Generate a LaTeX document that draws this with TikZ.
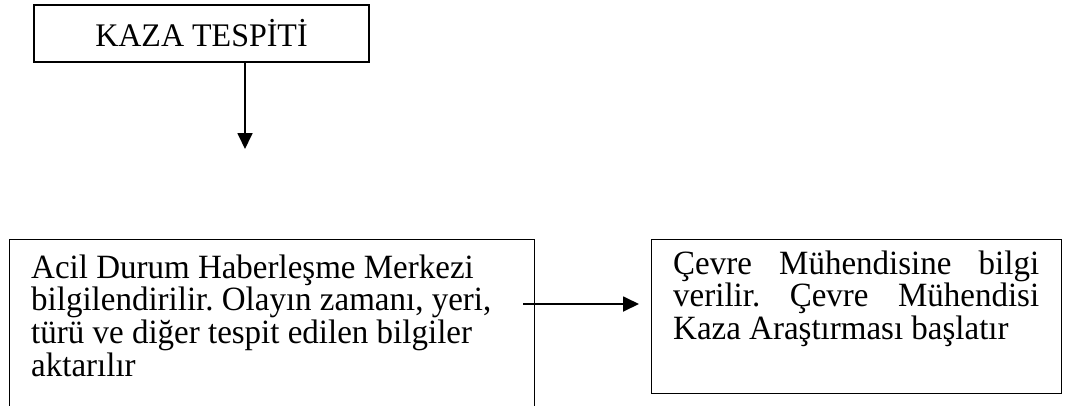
\documentclass[tikz,border=0pt]{standalone}
\usepackage{fontspec}
\setmainfont{Liberation Serif}
\usetikzlibrary{arrows.meta}
\newcommand{\bodyfont}{\fontsize{33}{32}\selectfont\frenchspacing}
\newcommand{\stretchtext}[2]{\scalebox{1}[1.03]{\parbox[t]{#1}{\bodyfont #2}}}
\begin{document}
\begin{tikzpicture}[x=1pt,y=-1pt,
  boxstyle/.style={draw=black, line width=1.3pt, rectangle, inner sep=0pt},
  txt/.style={inner sep=0pt, anchor=base west},
  arr/.style={line width=1.8pt, -{Triangle[length=16pt,width=15pt]}}]
\useasboundingbox (0,0) rectangle (1067,405);
\clip (0,0) rectangle (1067,405);
% top box
\node[boxstyle, minimum width=335pt, minimum height=57pt] (top) at (201.5,33.5) {};
\node[inner sep=0pt, font=\fontsize{32}{36}\selectfont, anchor=base] (toptxt) at (201.5,46.5) {\scalebox{1}[1.03]{KAZA TESP\.{I}T\.{I}}};
% left box (bottom edge lies below the picture)
\node[boxstyle, minimum width=525pt, minimum height=200pt, anchor=north west] (lbox) at (9,239) {};
\node[txt] (ltxt) at (31,278) {\stretchtext{495pt}{Acil Durum Haberleşme Merkezi\\bilgilendirilir. Olayın zamanı, yeri,\\türü ve diğer tespit edilen bilgiler\\aktarılır}};
% right box
\node[boxstyle, minimum width=410pt, minimum height=154pt, anchor=north west] (rbox) at (651,239) {};
\node[txt] (rtxt) at (673,274) {\stretchtext{366pt}{\makebox[366pt][s]{Çevre Mühendisine bilgi}\\\makebox[366pt][s]{verilir. Çevre Mühendisi}\\Kaza Araştırması başlatır}};
% connectors
\coordinate (d1) at (245,149);
\draw[arr] (top.south -| d1) -- (d1);
\coordinate (a2s) at (523,304);
\draw[arr, shorten >=12pt] (a2s) -- (rbox.west |- a2s);
\end{tikzpicture}
\end{document}
